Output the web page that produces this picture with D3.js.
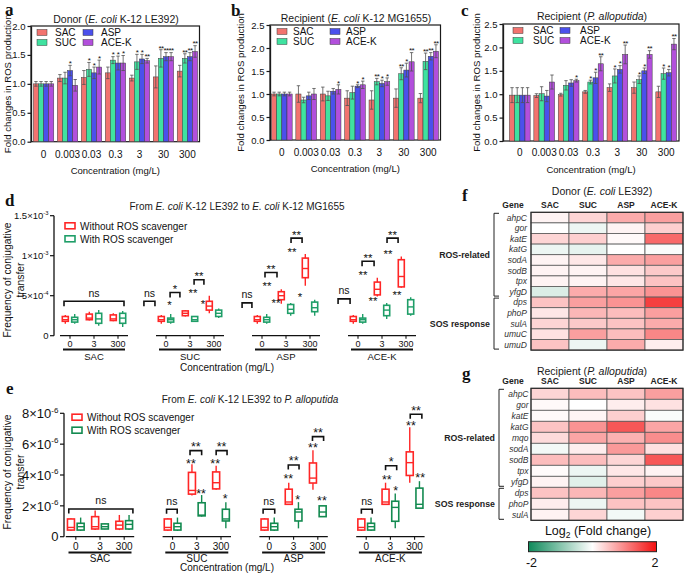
<!DOCTYPE html>
<html><head><meta charset="utf-8">
<script src="https://cdn.jsdelivr.net/npm/d3@7/dist/d3.min.js"></script>
<style>
html,body{margin:0;padding:0;background:#fff;}
svg{display:block;}
</style></head>
<body>
<svg id="fig" width="685" height="575"></svg>
<script>
// ================= DATA =================
const concLabels = ["0","0.003","0.03","0.3","3","30","300"];
const sweeteners = ["SAC","SUC","ASP","ACE-K"];
const sweetColors = ["#f2736f","#3fe2a0","#4b50ec","#b24fdc"];
const barTicksA = [0,0.5,1.0,1.5,2.0];
const barTicksBC = [0,0.5,1.0,1.5,2.0,2.5];

// panel a: Donor (E. coli K-12 LE392) — rows SAC, SUC, ASP, ACE-K
const aMeans = [
  [1.00,1.10,1.11,1.19,1.10,1.12,1.22],
  [1.00,1.10,1.25,1.41,1.38,1.44,1.44],
  [1.00,1.23,1.19,1.36,1.43,1.47,1.47],
  [1.00,0.975,1.29,1.36,1.40,1.47,1.56]
];
const aErrs = [
  [0.04,0.06,0.12,0.10,0.05,0.19,0.10],
  [0.04,0.10,0.12,0.06,0.13,0.15,0.08],
  [0.04,0.09,0.10,0.12,0.08,0.07,0.07],
  [0.04,0.10,0.12,0.13,0.04,0.07,0.10]
];
const aStars = [
  ["","","","","","",""],
  ["","","*","*","*","**","**"],
  ["","*","*","*","*","**","**"],
  ["","","*","*","**","**","**"]
];
// panel b: Recipient (E. coli K-12 MG1655)
const bMeans = [
  [1.00,1.00,1.00,0.91,0.87,0.91,0.91],
  [1.00,0.87,0.96,1.03,1.27,1.44,1.71],
  [1.00,0.96,1.06,1.17,1.23,1.52,1.82],
  [1.00,1.00,1.10,1.20,1.27,1.70,1.93]
];
const bErrs = [
  [0.04,0.18,0.15,0.16,0.20,0.20,0.10],
  [0.04,0.06,0.10,0.14,0.07,0.13,0.18],
  [0.04,0.08,0.06,0.03,0.07,0.15,0.08],
  [0.04,0.12,0.10,0.08,0.08,0.20,0.14]
];
const bStars = [
  ["","","","","","",""],
  ["","","","","**","**","**"],
  ["","","","*","*","*","**"],
  ["","","*","*","*","**","**"]
];
// panel c: Recipient (P. alloputida)
const cMeans = [
  [0.98,0.97,0.99,1.05,1.14,1.14,1.05],
  [0.98,1.01,1.19,1.26,1.39,1.31,1.44],
  [0.98,0.96,1.24,1.35,1.53,1.50,1.46],
  [0.98,1.26,1.29,1.65,1.85,1.85,2.07]
];
const cErrs = [
  [0.16,0.04,0.03,0.03,0.08,0.12,0.12],
  [0.16,0.15,0.10,0.04,0.15,0.08,0.12],
  [0.16,0.12,0.07,0.12,0.08,0.06,0.07],
  [0.16,0.15,0.03,0.15,0.20,0.08,0.12]
];
const cStars = [
  ["","","","","","",""],
  ["","","","*","*","*","*"],
  ["","","","*","*","*","*"],
  ["","","*","**","**","**","**"]
];
const aTitle = [["Donor (",0],["E. coli",1],[" K-12 LE392)",0]];
const bTitle = [["Recipient (",0],["E. coli",1],[" K-12 MG1655)",0]];
const cTitle = [["Recipient (",0],["P. alloputida",1],[")",0]];

// panels d/e: box plots [min, q1, median, q3, max]
const boxConcs = ["0","3","300"];
const treatments = ["Without ROS scavenger","With ROS scavenger"];
const dUnit = 1e-4;
const dWithout = [
  [[1.5,1.8,2.0,2.4,2.6],[1.9,2.0,2.2,2.7,3.0],[1.8,1.9,2.1,2.6,2.8]],
  [[1.5,1.8,2.0,2.4,2.6],[2.4,2.5,2.8,3.1,3.2],[2.8,3.2,3.7,4.3,5.0]],
  [[1.5,1.8,2.0,2.4,2.6],[4.0,4.5,5.0,5.5,5.8],[6.25,7.25,8.4,9.7,10.2]],
  [[1.5,1.8,2.0,2.4,2.6],[4.9,5.1,5.8,6.7,7.25],[6.0,6.1,7.4,9.5,9.9]]
];
const dWith = [
  [[1.5,1.7,2.0,2.3,2.7],[1.25,1.55,2.1,2.8,3.2],[1.1,1.55,2.2,2.8,3.1]],
  [[1.5,1.7,2.0,2.2,2.7],[1.8,1.8,2.0,2.4,2.4],[2.2,2.4,2.8,3.2,3.4]],
  [[1.5,1.7,2.0,2.3,2.7],[2.5,2.8,3.3,3.9,4.1],[2.5,3.0,3.5,4.2,4.5]],
  [[1.5,1.7,2.0,2.2,2.7],[2.1,2.5,3.2,3.8,4.1],[2.5,2.7,3.6,4.5,4.8]]
];
// [group index, slot position (-1=0, 0=3, 1=300), value in units, label]
const dStars = [
  [1,-0.85,4.1,"*"],[1,0.125,5.66,"**"],[1,0.54,4.2,"*"],
  [2,-0.79,6.5,"**"],[2,-0.42,4.4,"**"],[2,0.25,10.75,"**"],[2,0.58,5.1,"*"],
  [3,-0.79,7.9,"**"],[3,-0.375,4.6,"**"],[3,0.25,10.5,"**"],[3,0.625,5.4,"**"]
];
// [group index, slot from, slot to, value in units, label]
const dBrackets = [
  [0,-1.25,1.25,4.3,"ns"],
  [1,-1.92,-1.46,4.3,"ns"],[1,-0.83,-0.42,5.4,"*"],[1,0.17,0.58,7.0,"**"],
  [2,-1.83,-1.42,4.1,"ns"],[2,-0.875,-0.375,7.9,"**"],[2,0.21,0.67,12.2,"**"],
  [3,-1.83,-1.33,4.6,"ns"],[3,-0.83,-0.33,9.3,"**"],[3,0.21,0.67,12.2,"**"]
];
const dTicks = [0,5e-4,1e-3,1.5e-3];
const dTickText = [["0",""],["5×10","-4"],["1×10","-3"],["1.5×10","-3"]];
const dTitle = [["From ",0],["E. coli",1],[" K-12 LE392 to ",0],["E. coli",1],[" K-12 MG1655",0]];

const eUnit = 1e-6;
const eWithout = [
  [[0.37,0.43,0.6,1.15,1.2],[0.43,0.5,0.65,1.3,1.7],[0.43,0.5,0.75,1.0,1.41]],
  [[0.37,0.43,0.6,1.15,1.2],[2.67,2.76,3.0,4.17,4.7],[3.04,3.1,3.5,4.2,4.6]],
  [[0.37,0.43,0.6,1.15,1.2],[2.1,2.1,2.25,3.08,3.5],[3.04,3.48,3.8,4.78,5.6]],
  [[0.37,0.43,0.6,1.15,1.2],[2.1,2.1,2.25,3.08,3.5],[3.5,3.97,4.8,5.5,7.1]]
];
const eWith = [
  [[0.37,0.43,0.65,0.87,1.24],[0.48,0.5,0.65,0.83,0.85],[0.43,0.5,0.8,1.04,1.41]],
  [[0.37,0.43,0.65,0.87,1.24],[1.3,1.35,1.4,2.2,2.7],[0.54,1.02,1.15,1.78,2.24]],
  [[0.37,0.43,0.65,0.87,1.24],[0.54,1.02,1.6,1.78,2.24],[1.3,1.3,1.6,2.0,2.0]],
  [[0.37,0.43,0.65,0.87,1.24],[0.54,1.0,1.9,2.3,2.8],[1.85,1.85,2.1,3.15,3.6]]
];
const eStars = [
  [1,-0.24,4.9,"**"],[1,0.175,2.98,"**"],[1,0.76,4.9,"**"],[1,1.175,2.6,"*"],
  [2,-0.22,3.9,"**"],[2,0.17,2.55,"*"],[2,0.8,5.95,"**"],[2,1.17,2.49,"**"],
  [3,-0.15,3.83,"**"],[3,0.22,3.18,"*"],[3,0.85,7.35,"**"],[3,1.23,3.96,"**"]
];
const eBrackets = [
  [0,-1.29,1.36,1.8,"ns"],
  [1,-1.25,-0.81,1.78,"ns"],[1,-0.28,0.2,5.58,"**"],[1,0.8,1.25,5.58,"**"],
  [2,-1.26,-0.78,1.78,"ns"],[2,-0.22,0.225,4.65,"**"],[2,0.78,1.24,6.49,"**"],
  [3,-1.2,-0.75,1.78,"ns"],[3,-0.2,0.26,4.6,"*"],[3,0.82,1.3,7.94,"**"]
];
const eTicks = [0,2e-6,4e-6,6e-6,8e-6];
const eTickText = [["0",""],["2×10","-6"],["4×10","-6"],["6×10","-6"],["8×10","-6"]];
const eTitle = [["From ",0],["E. coli",1],[" K-12 LE392 to ",0],["P. alloputida",1]];

// panels f/g: heatmaps of log2 fold change (columns SAC, SUC, ASP, ACE-K)
const fGenes = ["ahpC","gor","katE","katG","sodA","sodB","tpx","yfgD","dps","phoP","sulA","umuC","umuD"];
const fLog2FC = [
  [0.10,0.35,0.70,0.80],
  [0.00,-0.15,0.10,0.40],
  [0.35,0.40,0.05,1.25],
  [-0.15,-0.20,0.00,-0.05],
  [0.10,0.20,0.70,0.80],
  [0.10,0.10,0.25,0.45],
  [0.10,0.10,0.20,0.50],
  [-0.30,0.70,0.75,0.90],
  [0.50,0.80,0.90,1.60],
  [0.20,0.60,0.55,0.80],
  [0.35,0.45,0.50,0.70],
  [0.25,0.80,0.55,1.00],
  [0.50,-0.15,0.70,0.15]
];
const fGroups = [["ROS-related","ahpC","yfgD"],["SOS response","dps","umuD"]];
const fTitle = [["Donor (",0],["E. coli",1],[" LE392)",0]];

const gGenes = ["ahpC","gor","katE","katG","mqo","sodA","sodB","tpx","yfgD","dps","phoP","sulA"];
const gLog2FC = [
  [0.35,0.55,0.50,0.80],
  [0.05,0.00,0.15,0.25],
  [0.05,0.08,0.40,-0.05],
  [0.50,0.90,1.40,0.75],
  [0.30,0.75,0.65,0.95],
  [-0.10,0.15,0.85,0.25],
  [0.55,0.55,0.35,1.40],
  [0.03,-0.15,0.20,0.10],
  [0.10,-0.25,0.40,0.45],
  [0.50,0.60,0.80,1.00],
  [0.15,-0.15,0.50,0.50],
  [0.10,0.35,-0.10,0.40]
];
const gGroups = [["ROS-related","ahpC","yfgD"],["SOS response","dps","sulA"]];
const gTitle = [["Recipient (",0],["P. alloputida",1],[")",0]];
const cbarDomain = [-2,0,2];
const cbarColors = ["#0e8a5a","#ffffff","#f30f0f"];
const cbarTickVals = [-2,2];
const cbarTickText = ["-2","2"];

// ================= DRAWING =================
const SANS = "Arial, 'Liberation Sans', Helvetica, sans-serif";
const SERIF = "'Liberation Serif','Times New Roman',serif";
const svg = d3.select("#fig").style("font-family", SANS);

function rich(g, x, y, parts, size, anchor="middle") {
  const t = g.append("text").attr("x", x).attr("y", y).attr("font-size", size)
    .attr("text-anchor", anchor).attr("fill", "#1a1a1a");
  parts.forEach(p => t.append("tspan").text(p[0]).attr("font-style", p[1] ? "italic" : null));
  return t;
}
function label(txt, x, y) {
  svg.append("text").attr("x", x).attr("y", y).text(txt)
    .attr("font-family", SERIF).attr("font-weight", "bold").attr("font-size", 17).attr("fill", "#111");
}

function barPanel(o) {
  const g = svg.append("g");
  const x0 = d3.scaleBand().domain(concLabels).range(o.xr).paddingInner(0.15).paddingOuter(0.1);
  const x1 = d3.scaleBand().domain(sweeteners).range([0, x0.bandwidth()]);
  const y = d3.scaleLinear().domain([0, o.ymax]).range([o.yb, o.yt]);
  g.append("rect").attr("x", o.ax).attr("y", o.yt).attr("width", o.fr - o.ax).attr("height", o.yb - o.yt)
    .attr("fill", "none").attr("stroke", "#1a1a1a").attr("stroke-width", 1.2);
  sweeteners.forEach((s, si) => concLabels.forEach((c, ci) => {
    const m = o.means[si][ci], e = o.errs[si][ci];
    const bx = x0(c) + x1(s), w = x1.bandwidth(), cx = bx + w / 2;
    g.append("rect").attr("x", bx).attr("y", y(m)).attr("width", w).attr("height", y(0) - y(m))
      .attr("fill", sweetColors[si]).attr("stroke", "#3a3a3a").attr("stroke-width", 0.5);
    g.append("line").attr("x1", cx).attr("x2", cx).attr("y1", y(m - e)).attr("y2", y(m + e))
      .attr("stroke", "#505050").attr("stroke-width", 0.8);
    [m - e, m + e].forEach(v => g.append("line").attr("x1", cx - 1.7).attr("x2", cx + 1.7)
      .attr("y1", y(v)).attr("y2", y(v)).attr("stroke", "#505050").attr("stroke-width", 0.8));
    const st = o.stars[si][ci];
    if (st) g.append("text").attr("x", cx).attr("y", y(m + e) + 0.8).attr("text-anchor", "middle")
      .attr("font-size", 8).attr("letter-spacing", -0.6).attr("fill", "#111").text(st);
  }));
  const ya = g.append("g").attr("transform", `translate(${o.ax},0)`)
    .call(d3.axisLeft(y).tickValues(o.ticks).tickFormat(d3.format(".1f")).tickSize(3.5).tickSizeOuter(0).tickPadding(2));
  ya.select(".domain").attr("stroke", "#1a1a1a").attr("stroke-width", 1.3);
  ya.selectAll(".tick line").attr("stroke", "#1a1a1a").attr("stroke-width", 1.2);
  ya.selectAll(".tick text").attr("font-size", 9.5).attr("font-family", SANS).attr("fill", "#111");
  concLabels.forEach(c => g.append("text").attr("x", x0(c) + x0.bandwidth() / 2).attr("y", o.xly)
    .attr("text-anchor", "middle").attr("font-size", 10).attr("fill", "#111").text(c));
  g.append("text").attr("x", (o.ax + o.fr) / 2).attr("y", o.xty).attr("text-anchor", "middle")
    .attr("font-size", 9.5).attr("fill", "#111").text("Concentration (mg/L)");
  g.append("text").attr("transform", `translate(${o.ytx},${(o.yt + o.yb) / 2}) rotate(-90)`)
    .attr("text-anchor", "middle").attr("font-size", 9.6).attr("fill", "#111").text("Fold changes in ROS production");
  rich(g, o.tx, o.ty, o.title, 10.5);
  // legend
  sweeteners.forEach((s, si) => {
    const col = Math.floor(si / 2), row = si % 2;
    const lx = o.ax + o.legX[col], ly = o.yt + 6.5 + row * 10;
    g.append("rect").attr("x", lx).attr("y", ly - 3).attr("width", 10).attr("height", 6)
      .attr("fill", sweetColors[si]).attr("stroke", "#3a3a3a").attr("stroke-width", 0.5);
    g.append("text").attr("x", lx + o.legT).attr("y", ly + 3.6).attr("font-size", 10).attr("fill", "#111").text(s);
  });
}

barPanel({xr:[31,200], ax:31, fr:199.5, yt:26, yb:141.7, ymax:2.0, ticks:barTicksA,
  means:aMeans, errs:aErrs, stars:aStars, xly:158, xty:173.5, ytx:10.5, tx:116, ty:22.5, title:aTitle,
  legX:[6,52], legT:18});
barPanel({xr:[269,441], ax:270, fr:440.5, yt:25, yb:140, ymax:2.5, ticks:barTicksBC,
  means:bMeans, errs:bErrs, stars:bStars, xly:156, xty:172, ytx:244, tx:356, ty:21.5, title:bTitle,
  legX:[7,60], legT:16});
barPanel({xr:[507,679], ax:503, fr:679, yt:24, yb:141, ymax:2.5, ticks:barTicksBC,
  means:cMeans, errs:cErrs, stars:cStars, xly:156, xty:173, ytx:480, tx:592, ty:19.5, title:cTitle,
  legX:[10,57], legT:20});

function boxPanel(o) {
  const g = svg.append("g");
  const y = d3.scaleLinear().domain([0, o.ymax]).range([o.y0, o.y1]);
  const xg = d3.scaleBand().domain(sweeteners).range(o.xr);
  const xc = d3.scalePoint().domain(boxConcs).range([-o.step, o.step]);
  const xs = d3.scaleLinear().domain([-1, 1]).range([-o.step, o.step]);
  const xt = d3.scalePoint().domain([0, 1]).range([-o.off, o.off]);
  const gc = i => xg(sweeteners[i]) + xg.bandwidth() / 2;
  // y axis
  g.append("line").attr("x1", o.ax).attr("x2", o.ax).attr("y1", y(o.ymax)).attr("y2", y(0))
    .attr("stroke", "#111").attr("stroke-width", 1.3);
  o.ticks.forEach((t, i) => {
    g.append("line").attr("x1", o.ax - 4).attr("x2", o.ax).attr("y1", y(t)).attr("y2", y(t))
      .attr("stroke", "#111").attr("stroke-width", 1.2);
    const tx = g.append("text").attr("x", o.ax - 5.5).attr("y", y(t) + o.tickFs * 0.36)
      .attr("text-anchor", "end").attr("font-size", o.tickFs).attr("fill", "#111");
    tx.append("tspan").text(o.tickText[i][0]);
    if (o.tickText[i][1]) tx.append("tspan").attr("dy", -o.tickFs * 0.42).attr("font-size", o.tickFs * 0.62).text(o.tickText[i][1]);
  });
  // y title (two lines)
  const yt = g.append("text").attr("transform", `translate(0,${o.ytc}) rotate(-90)`)
    .attr("text-anchor", "middle").attr("font-size", 10.3).attr("fill", "#111");
  yt.append("tspan").attr("x", 0).attr("y", 11).text("Frequency of conjugative");
  yt.append("tspan").attr("x", 0).attr("y", 23.5).text("transfer");
  // groups
  sweeteners.forEach((s, gi) => {
    const c = gc(gi);
    g.append("line").attr("x1", c - o.step - 10).attr("x2", c + o.step + 10).attr("y1", y(0)).attr("y2", y(0))
      .attr("stroke", "#111").attr("stroke-width", 1.2);
    boxConcs.forEach((cc, ci) => {
      const px = c + xc(cc);
      g.append("line").attr("x1", px).attr("x2", px).attr("y1", y(0)).attr("y2", y(0) + 3)
        .attr("stroke", "#111").attr("stroke-width", 1.1);
      g.append("text").attr("x", px).attr("y", o.cly).attr("text-anchor", "middle")
        .attr("font-size", o.clFs).attr("fill", "#111").text(cc);
      [o.without, o.with].forEach((arr, ti) => {
        const v = arr[gi][ci].map(d => d * o.unit);
        const bx = px + xt(ti), col = o.colors[ti], bw = o.bw;
        g.append("line").attr("x1", bx).attr("x2", bx).attr("y1", y(v[0])).attr("y2", y(v[4]))
          .attr("stroke", col).attr("stroke-width", 1.4);
        g.append("rect").attr("x", bx - bw / 2).attr("y", y(v[3])).attr("width", bw)
          .attr("height", Math.max(y(v[1]) - y(v[3]), 0.5)).attr("fill", "#fff")
          .attr("stroke", col).attr("stroke-width", 1.6);
        g.append("line").attr("x1", bx - bw / 2).attr("x2", bx + bw / 2).attr("y1", y(v[2])).attr("y2", y(v[2]))
          .attr("stroke", col).attr("stroke-width", 1.4);
      });
    });
    g.append("line").attr("x1", c - o.ul).attr("x2", c + o.ul).attr("y1", o.uly).attr("y2", o.uly)
      .attr("stroke", "#111").attr("stroke-width", 1.8);
    g.append("text").attr("x", c).attr("y", o.gly).attr("text-anchor", "middle")
      .attr("font-size", o.glFs).attr("fill", "#111").text(s);
  });
  // annotations
  o.stars.forEach(([gi, sl, v, t]) => g.append("text").attr("x", gc(gi) + xs(sl)).attr("y", y(v * o.unit) + o.starFs * 0.55)
    .attr("text-anchor", "middle").attr("font-size", o.starFs).attr("fill", "#111").text(t));
  o.brackets.forEach(([gi, s0, s1, v, t]) => {
    const x0 = gc(gi) + xs(s0), x1 = gc(gi) + xs(s1), yy = y(v * o.unit);
    g.append("path").attr("d", `M${x0},${yy + o.bt}V${yy}H${x1}V${yy + o.bt}`)
      .attr("fill", "none").attr("stroke", "#111").attr("stroke-width", 1.6);
    const isNs = t === "ns";
    g.append("text").attr("x", (x0 + x1) / 2).attr("y", isNs ? yy - 4.5 : yy + 0.5).attr("text-anchor", "middle")
      .attr("font-size", isNs ? 10.5 : o.starFs).attr("fill", "#111").text(t);
  });
  // legend
  treatments.forEach((t, ti) => {
    const ly = o.legY + ti * 13;
    g.append("rect").attr("x", o.legX).attr("y", ly - 3).attr("width", 10).attr("height", 6)
      .attr("fill", "#fff").attr("stroke", o.colors[ti]).attr("stroke-width", 1.6);
    g.append("text").attr("x", o.legX + 15).attr("y", ly + 3.7).attr("font-size", 10).attr("fill", "#111").text(t);
  });
  g.append("text").attr("x", 227).attr("y", o.cty).attr("text-anchor", "middle").attr("font-size", 10)
    .attr("fill", "#111").text("Concentration (mg/L)");
  rich(g, o.tx, o.ty, o.title, 10);
}

boxPanel({xr:[46,430], ax:54, y0:335.7, y1:215.7, ymax:1.5e-3, unit:dUnit, step:24, off:4.7, bw:6,
  without:dWithout, with:dWith, colors:["#ff2626","#1f9e68"], ticks:dTicks, tickText:dTickText, tickFs:9.5,
  ytc:280, cly:346.5, clFs:9, uly:349.5, ul:31, gly:359.5, glFs:9.5, cty:371,
  stars:dStars, brackets:dBrackets, starFs:11.5, bt:5, legX:65, legY:225.8,
  tx:237, ty:209.5, title:dTitle});
boxPanel({xr:[51.6,438.8], ax:64, y0:536.7, y1:413.3, ymax:8e-6, unit:eUnit, step:24.2, off:4.85, bw:7,
  without:eWithout, with:eWith, colors:["#ff2626","#138a50"], ticks:eTicks, tickText:eTickText, tickFs:13,
  ytc:472, cly:550, clFs:10, uly:552.5, ul:31.5, gly:561.5, glFs:10, cty:571,
  stars:eStars, brackets:eBrackets, starFs:12.5, bt:4.5, legX:72, legY:417.2,
  tx:250, ty:402.5, title:eTitle});

// heatmaps
const heatColor = d3.scaleLinear().domain(cbarDomain).range(cbarColors).clamp(true);
function heatPanel(o) {
  const g = svg.append("g");
  const x = d3.scaleBand().domain(sweeteners).range([531, 683]);
  const y = d3.scaleBand().domain(o.genes).range([o.top, o.top + o.rowH * o.genes.length]);
  o.genes.forEach((gn, ri) => sweeteners.forEach((s, ci) => {
    g.append("rect").attr("x", x(s)).attr("y", y(gn)).attr("width", x.bandwidth()).attr("height", y.bandwidth())
      .attr("fill", heatColor(o.vals[ri][ci])).attr("stroke", "#5a5a5a").attr("stroke-width", 0.8);
  }));
  g.append("rect").attr("x", 531).attr("y", o.top).attr("width", 152).attr("height", o.rowH * o.genes.length)
    .attr("fill", "none").attr("stroke", "#2a2a2a").attr("stroke-width", 1.2);
  o.genes.forEach(gn => g.append("text").attr("x", o.glx).attr("y", y(gn) + y.bandwidth() / 2 + 3)
    .attr("text-anchor", "end").attr("font-size", 8.5).attr("font-style", "italic").attr("fill", "#333").text(gn));
  g.append("text").attr("x", 513).attr("y", o.top - 4.5).attr("text-anchor", "middle")
    .attr("font-size", 8.5).attr("font-weight", "bold").attr("fill", "#222").text("Gene");
  sweeteners.forEach(s => g.append("text").attr("x", x(s) + x.bandwidth() / 2).attr("y", o.top - 4.5)
    .attr("text-anchor", "middle").attr("font-size", 8.5).attr("font-weight", "bold").attr("fill", "#222").text(s));
  o.groups.forEach(([name, a, b]) => {
    const y0 = y(a) + 1, y1 = y(b) + y.bandwidth() - 1;
    g.append("path").attr("d", `M${o.brx + 5},${y0}H${o.brx}V${y1}H${o.brx + 5}`)
      .attr("fill", "none").attr("stroke", "#222").attr("stroke-width", 1);
    g.append("text").attr("x", o.brx - 4).attr("y", (y0 + y1) / 2 + 3).attr("text-anchor", "end")
      .attr("font-size", 8.8).attr("font-weight", "bold").attr("fill", "#222").text(name);
  });
  rich(g, o.tx, o.ty, o.title, 10.5);
}
heatPanel({genes:fGenes, vals:fLog2FC, groups:fGroups, top:212.3, rowH:10.6, glx:527, brx:494, tx:602, ty:195, title:fTitle});
heatPanel({genes:gGenes, vals:gLog2FC, groups:gGroups, top:388.3, rowH:11, glx:528.5, brx:499, tx:592, ty:375, title:gTitle});

// colour bar
const defs = svg.append("defs");
const grad = defs.append("linearGradient").attr("id", "cbar");
d3.range(0, 1.0001, 0.05).forEach(t => grad.append("stop").attr("offset", t)
  .attr("stop-color", heatColor(cbarDomain[0] + t * (cbarDomain[2] - cbarDomain[0]))));
const cbx = d3.scaleLinear().domain([cbarDomain[0], cbarDomain[2]]).range([528.5, 656.5]);
svg.append("rect").attr("x", cbx(-2)).attr("y", 541.7).attr("width", cbx(2) - cbx(-2)).attr("height", 10)
  .attr("fill", "url(#cbar)").attr("stroke", "#222").attr("stroke-width", 1);
cbarTickVals.forEach((v, i) => svg.append("text").attr("x", cbx(v) + (i === 0 ? 3 : -1.5)).attr("y", 566.5)
  .attr("text-anchor", "middle").attr("font-size", 12.5).attr("fill", "#111").text(cbarTickText[i]));
const lt = svg.append("text").attr("x", 598).attr("y", 535).attr("text-anchor", "middle").attr("font-size", 12.5).attr("fill", "#111");
lt.append("tspan").text("Log");
lt.append("tspan").attr("dy", 3).attr("font-size", 8.5).text("2");
lt.append("tspan").attr("dy", -3).text(" (Fold change)");

// panel labels
label("a", 5, 15); label("b", 231, 16); label("c", 461, 16);
label("d", 5, 206); label("e", 6, 394); label("f", 462, 201); label("g", 462, 379);
</script>
</body></html>
